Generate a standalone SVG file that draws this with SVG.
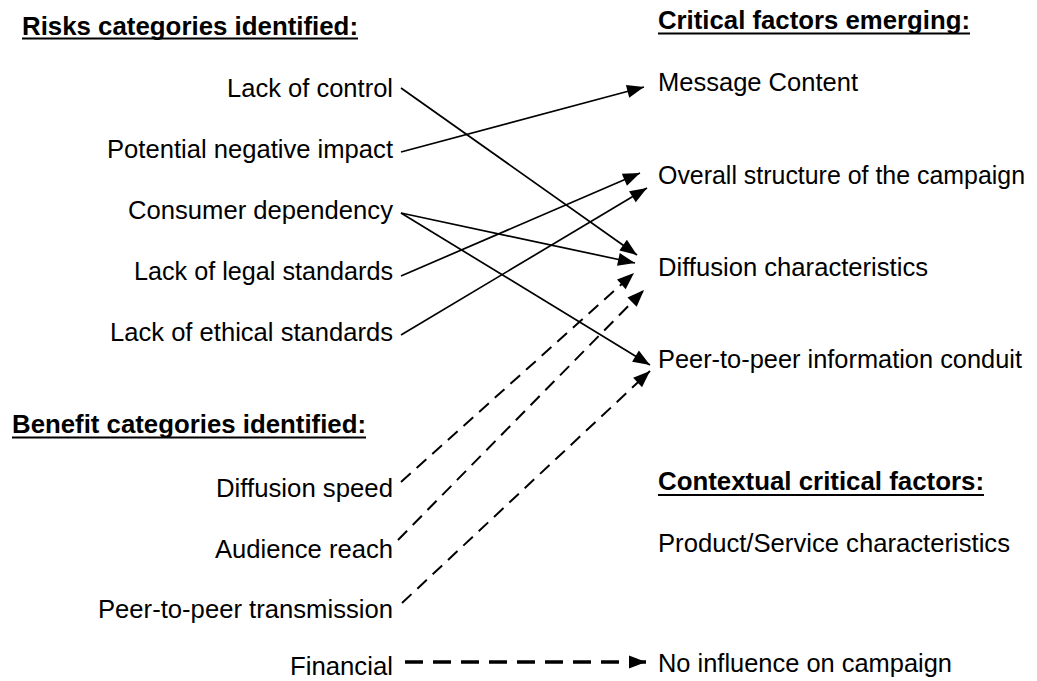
<svg xmlns="http://www.w3.org/2000/svg" width="1037" height="681" viewBox="0 0 1037 681">
<style>
text{font-family:"Liberation Sans",Arial,sans-serif;fill:#000}
.t{font-size:25.5px}
.h{font-size:25px;font-weight:bold}
.r{text-anchor:end}
.ul{stroke:#000;stroke-width:2}
.c{fill:none;stroke:#000;stroke-width:1.7}
.d{fill:none;stroke:#000;stroke-width:2;stroke-dasharray:13 8}
.f{fill:none;stroke:#000;stroke-width:3.5;stroke-dasharray:18 10}
</style>
<defs>
<marker id="ah" markerUnits="userSpaceOnUse" markerWidth="20" markerHeight="16" viewBox="-18 -7 20 14" refX="0" refY="0" orient="auto">
<path d="M-17,-6.5 L0,0 L-17,6.5 z" fill="#000"/>
</marker>
</defs>
<rect width="1037" height="681" fill="#fff"/>
<g id="heading-risks">
<text class="h" x="22" y="35" textLength="336" lengthAdjust="spacingAndGlyphs">Risks categories identified:</text>
<line class="ul" x1="22" y1="38.5" x2="358" y2="38.5"/>
</g>
<g id="heading-benefits">
<text class="h" x="12" y="433" textLength="354" lengthAdjust="spacingAndGlyphs">Benefit categories identified:</text>
<line class="ul" x1="12" y1="437.5" x2="366" y2="437.5"/>
</g>
<g id="heading-critical">
<text class="h" x="658" y="29" textLength="312" lengthAdjust="spacingAndGlyphs">Critical factors emerging:</text>
<line class="ul" x1="658" y1="33.5" x2="970" y2="33.5"/>
</g>
<g id="heading-contextual">
<text class="h" x="658" y="490" textLength="326" lengthAdjust="spacingAndGlyphs">Contextual critical factors:</text>
<line class="ul" x1="658" y1="495" x2="984" y2="495"/>
</g>
<g id="risk-control"><text class="t r" x="393" y="97" textLength="166" lengthAdjust="spacingAndGlyphs">Lack of control</text></g>
<g id="risk-impact"><text class="t r" x="393" y="158" textLength="286" lengthAdjust="spacingAndGlyphs">Potential negative impact</text></g>
<g id="risk-dependency"><text class="t r" x="393" y="219" textLength="265" lengthAdjust="spacingAndGlyphs">Consumer dependency</text></g>
<g id="risk-legal"><text class="t r" x="393" y="280" textLength="259" lengthAdjust="spacingAndGlyphs">Lack of legal standards</text></g>
<g id="risk-ethical"><text class="t r" x="393" y="341" textLength="283" lengthAdjust="spacingAndGlyphs">Lack of ethical standards</text></g>
<g id="benefit-speed"><text class="t r" x="393" y="497" textLength="177" lengthAdjust="spacingAndGlyphs">Diffusion speed</text></g>
<g id="benefit-reach"><text class="t r" x="393" y="558" textLength="178" lengthAdjust="spacingAndGlyphs">Audience reach</text></g>
<g id="benefit-transmission"><text class="t r" x="393" y="618" textLength="295" lengthAdjust="spacingAndGlyphs">Peer-to-peer transmission</text></g>
<g id="benefit-financial"><text class="t r" x="393" y="675" textLength="103" lengthAdjust="spacingAndGlyphs">Financial</text></g>
<g id="factor-message"><text class="t" x="658" y="91" textLength="200" lengthAdjust="spacingAndGlyphs">Message Content</text></g>
<g id="factor-structure"><text class="t" x="658" y="184" textLength="367" lengthAdjust="spacingAndGlyphs">Overall structure of the campaign</text></g>
<g id="factor-diffusion"><text class="t" x="658" y="276" textLength="270" lengthAdjust="spacingAndGlyphs">Diffusion characteristics</text></g>
<g id="factor-peer"><text class="t" x="658" y="368" textLength="364" lengthAdjust="spacingAndGlyphs">Peer-to-peer information conduit</text></g>
<g id="factor-product"><text class="t" x="658" y="552" textLength="352" lengthAdjust="spacingAndGlyphs">Product/Service characteristics</text></g>
<g id="factor-none"><text class="t" x="658" y="672" textLength="294" lengthAdjust="spacingAndGlyphs">No influence on campaign</text></g>
<g id="connectors">
<line class="c" x1="401" y1="88" x2="637" y2="255" marker-end="url(#ah)"/>
<line class="c" x1="401" y1="152" x2="644" y2="87" marker-end="url(#ah)"/>
<line class="c" x1="401" y1="213" x2="635" y2="263" marker-end="url(#ah)"/>
<line class="c" x1="401" y1="213" x2="650" y2="365" marker-end="url(#ah)"/>
<line class="c" x1="401" y1="276" x2="640" y2="173" marker-end="url(#ah)"/>
<line class="c" x1="401" y1="335" x2="647" y2="188" marker-end="url(#ah)"/>
<line class="d" x1="401" y1="482" x2="634" y2="273" marker-end="url(#ah)"/>
<line class="d" x1="398" y1="540" x2="644" y2="290" marker-end="url(#ah)"/>
<line class="d" x1="402" y1="603" x2="650" y2="371" marker-end="url(#ah)"/>
<line class="f" x1="405" y1="662" x2="646" y2="662" marker-end="url(#ah)"/>
</g>
</svg>
